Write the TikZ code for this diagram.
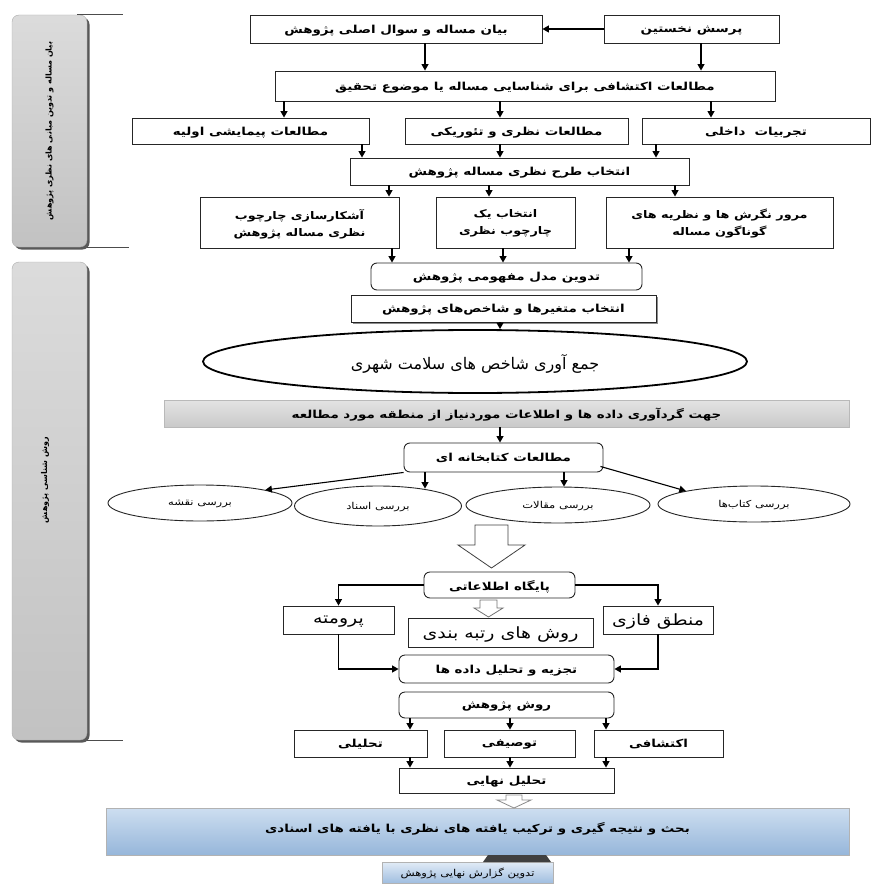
\documentclass[tikz,border=0pt]{standalone}
\usepackage{fontspec}
\usetikzlibrary{shapes.geometric,arrows.meta,shadows,calc}
\TeXXeTstate=1
\newfontfamily\arabicfont[Script=Arabic]{DejaVu Sans}
\newfontfamily\arabicwide[Script=Arabic,FakeStretch=1.22]{DejaVu Sans}
\newcommand{\rtl}[1]{\beginR #1\endR}
\newcommand{\fbx}{\arabicwide\bfseries\fontsize{11}{17}\selectfont}
\newcommand{\fbig}{\arabicwide\fontsize{15.5}{18}\selectfont}
\newcommand{\fsmall}{\arabicwide\fontsize{9.5}{11}\selectfont}
\begin{document}
\begin{tikzpicture}[x=1pt,y=-1pt,
  bx/.style={draw=black!85, line width=0.9pt, fill=white, inner sep=1pt, font=\fbx, align=center, text depth=0pt},
  rbx/.style={bx, rounded corners=6pt},
  ar/.style={draw=black, line width=1.1pt, -{Triangle[length=6.5pt,width=7pt]}},
  oval/.style={ellipse, draw=black!85, line width=0.9pt, fill=white, inner sep=0pt, font=\fsmall, text depth=0pt},
  hollow/.style={draw=black!75, line width=0.8pt, fill=white, line join=miter},
  panel/.style={rounded corners=7pt, draw=gray!65, top color=gray!28, bottom color=gray!48,
     drop shadow={shadow xshift=2.5pt, shadow yshift=-2.5pt, fill=black!65, opacity=1},
     inner sep=0pt, font=\arabicfont\bfseries\fontsize{8}{10}\selectfont},
  panelline/.style={draw=gray!60!black, line width=0.6pt},
  greyband/.style={draw=gray!55, line width=0.5pt, top color=gray!22, bottom color=gray!42, inner sep=0pt, font=\fbx, text depth=0pt},
  blueband/.style={draw=gray!60, line width=0.5pt,
     top color={rgb,255:red,205;green,222;blue,240}, middle color={rgb,255:red,245;green,248;blue,252},
     bottom color={rgb,255:red,150;green,182;blue,218}, inner sep=0pt, font=\fbx, text depth=0pt},
]
\useasboundingbox (0,0) rectangle (872,885);

% side panels
\node[panel, minimum width=75, minimum height=232] (p1) at (49.5,131)
  {\rotatebox{90}{\rtl{بیان مساله و تدوین مبانی های نظری پژوهش}}};
\node[panel, minimum width=75, minimum height=478] (p2) at (49.5,501) {};
\node[font=\arabicfont\bfseries\fontsize{8}{10}\selectfont, inner sep=0pt] (p2t) at (45,480)
  {\rotatebox{90}{\rtl{روش شناسی پژوهش}}};
\draw[panelline] ([xshift=-10pt]p1.north east) -- ++(46,0);
\draw[panelline] (p1.south east) -- ++(42,0);
\draw[panelline] (p2.south east) -- ++(36,0);

% top part
\node[bx, minimum width=175, minimum height=28] (q1) at (691.5,29) {\rtl{پرسش نخستین}};
\node[bx, minimum width=292, minimum height=28] (st) at (396,29) {\rtl{بیان مساله و سوال اصلی پژوهش}};
\node[bx, minimum width=500, minimum height=30] (ex) at (525,86) {\rtl{مطالعات اکتشافی برای شناسایی مساله یا موضوع تحقیق}};
\node[bx, minimum width=237, minimum height=26] (r3a) at (250.5,131) {\rtl{مطالعات پیمایشی اولیه}};
\node[bx, minimum width=223, minimum height=26] (r3b) at (516.5,131) {\rtl{مطالعات نظری و تئوریکی}};
\node[bx, minimum width=228, minimum height=26] (r3c) at (756,131) {\rtl{تجربیات\ \ داخلی}};
\node[bx, minimum width=339, minimum height=27] (sel) at (519.5,171.5) {\rtl{انتخاب طرح نظری مساله پژوهش}};
\node[bx, minimum width=199, minimum height=51, font=\arabicwide\bfseries\fontsize{10.5}{17}\selectfont] (r5a) at (299.5,222.5) {\rtl{آشکارسازی چارچوب}\\\rtl{نظری مساله پژوهش}};
\node[bx, minimum width=139, minimum height=51, font=\arabicwide\bfseries\fontsize{10.5}{17}\selectfont] (r5b) at (505.5,222.5) {\rtl{انتخاب یک}\\\rtl{چارچوب نظری}};
\node[bx, minimum width=227, minimum height=51, font=\arabicwide\bfseries\fontsize{10.5}{17}\selectfont] (r5c) at (719.5,222.5) {\rtl{مرور نگرش ها و نظریه های}\\\rtl{گوناگون مساله}};
\node[rbx, minimum width=271, minimum height=27] (model) at (506.5,276.5) {\rtl{تدوین مدل مفهومی پژوهش}};
\node[bx, minimum width=305, minimum height=27, drop shadow={shadow xshift=2pt, shadow yshift=-2pt, fill=black!45, opacity=1}] (var) at (503.5,308.5) {\rtl{انتخاب متغیرها و شاخص‌های پژوهش}};
\node[ellipse, draw=black, line width=1.8pt, fill=white, inner sep=0pt, minimum width=544, minimum height=63,
  font=\arabicfont\fontsize{16}{20}\selectfont, text depth=0pt] (ell) at (475,361.5) {\rtl{جمع آوری شاخص های سلامت شهری}};
\node[greyband, minimum width=685, minimum height=27] (band) at (506.5,413.5) {\rtl{جهت گردآوری داده ها و اطلاعات موردنیاز از منطقه مورد مطالعه}};
\node[rbx, minimum width=199, minimum height=29] (lib) at (503.5,457.5) {\rtl{مطالعات کتابخانه ای}};
\node[oval, minimum width=184, minimum height=36] (e1) at (200,503) {\rtl{بررسی نقشه}};
\node[oval, minimum width=167, minimum height=40] (e2) at (378,506) {\rtl{بررسی اسناد}};
\node[oval, minimum width=184, minimum height=36] (e3) at (558,505) {\rtl{بررسی مقالات}};
\node[oval, minimum width=192, minimum height=36] (e4) at (754,504) {\rtl{بررسی کتاب‌ها}};
\node[rbx, minimum width=151, minimum height=26] (db) at (499.5,585) {\rtl{پایگاه اطلاعاتی}};
\node[bx, minimum width=111, minimum height=28, font=\fbig] (prom) at (338.5,620) {\rtl{پرومته}};
\node[bx, minimum width=185, minimum height=29, font=\fbig] (rank) at (500.5,632.5) {\rtl{روش های رتبه بندی}};
\node[bx, minimum width=110, minimum height=28, font=\fbig] (fuzzy) at (658,620) {\rtl{منطق فازی}};
\node[rbx, minimum width=215, minimum height=28] (anal) at (506.5,669) {\rtl{تجزیه و تحلیل داده ها}};
\node[rbx, minimum width=215, minimum height=26] (meth) at (506.5,705) {\rtl{روش پژوهش}};
\node[bx, minimum width=133, minimum height=27] (t1) at (360.5,743.5) {\rtl{تحلیلی}};
\node[bx, minimum width=131, minimum height=27] (t2) at (509.5,743.5) {\rtl{توصیفی}};
\node[bx, minimum width=129, minimum height=27] (t3) at (658.5,743.5) {\rtl{اکتشافی}};
\node[bx, minimum width=215, minimum height=25] (final) at (506.5,780.5) {\rtl{تحلیل نهایی}};
\node[blueband, minimum width=743, minimum height=47] (disc) at (477.5,831.5)
  {\raisebox{9pt}{\rtl{بحث و نتیجه گیری و ترکیب یافته های نظری با یافته های اسنادی}}};
\node[blueband, minimum width=171, minimum height=21, font=\arabicwide\fontsize{9.5}{11}\selectfont,
  top color={rgb,255:red,225;green,235;blue,246}, middle color={rgb,255:red,200;green,218;blue,238},
  bottom color={rgb,255:red,160;green,190;blue,224}] (rep) at (467.5,872.5) {\rtl{تدوین گزارش نهایی پژوهش}};

% dark connector between the two blue bands
\fill[black!75] (488,855) -- (546,855) -- (551,862) -- (483,862) -- cycle;

% hollow arrows
\draw[hollow] (475,525) -- (508,525) -- (508,545) -- (525,545) -- (491.5,568) -- (458,545) -- (475,545) -- cycle;
\draw[hollow, draw=black!55] (480,600) -- (497,600) -- (497,608) -- (503,608) -- (488.5,617) -- (474,608) -- (480,608) -- cycle;
\draw[hollow, draw=black!45] (506,795) -- (522,795) -- (522,800) -- (531,800) -- (514,808) -- (497,800) -- (506,800) -- cycle;

% connectors
\draw[ar] (q1.west) -- (st.east);
\draw[ar] (425,0 |- st.south) -- (425,0 |- ex.north);
\draw[ar] (701,0 |- q1.south) -- (701,0 |- ex.north);
\draw[ar] (284,0 |- ex.south) -- (284,0 |- r3a.north);
\draw[ar] (500,0 |- ex.south) -- (500,0 |- r3b.north);
\draw[ar] (711,0 |- ex.south) -- (711,0 |- r3c.north);
\draw[ar] (362,0 |- r3a.south) -- (362,0 |- sel.north);
\draw[ar] (500,0 |- r3b.south) -- (500,0 |- sel.north);
\draw[ar] (656,0 |- r3c.south) -- (656,0 |- sel.north);
\draw[ar] (389,0 |- sel.south) -- (389,0 |- r5a.north);
\draw[ar] (489,0 |- sel.south) -- (489,0 |- r5b.north);
\draw[ar] (675,0 |- sel.south) -- (675,0 |- r5c.north);
\draw[ar] (392,0 |- r5a.south) -- (392,0 |- model.north);
\draw[ar] (503,0 |- r5b.south) -- (503,0 |- model.north);
\draw[ar] (629,0 |- r5c.south) -- (629,0 |- model.north);
\draw[ar] (500,0 |- var.south) -- (500,0 |- ell.north);
\draw[ar] (500,0 |- band.south) -- (500,0 |- lib.north);
\draw[ar] (lib.south west) -- (e1.north east);
\draw[ar] (425,0 |- lib.south) -- ($(e2.north)+(47,3)$);
\draw[ar] (564,0 |- lib.south) -- (564,0 |- e3.north);
\draw[ar] ($(lib.south east)+(-3,-6)$) -- (e4.north west);
\draw[ar] (db.west) -| (prom.north);
\draw[ar] (db.east) -| (fuzzy.north);
\draw[ar] (prom.south) |- (anal.west);
\draw[ar] (fuzzy.south) |- (anal.east);
\draw[ar] (410,0 |- meth.south) -- (410,0 |- t1.north);
\draw[ar] (510,0 |- meth.south) -- (510,0 |- t2.north);
\draw[ar] (606,0 |- meth.south) -- (606,0 |- t3.north);
\draw[ar] (410,0 |- t1.south) -- (410,0 |- final.north);
\draw[ar] (510,0 |- t2.south) -- (510,0 |- final.north);
\draw[ar] (606,0 |- t3.south) -- (606,0 |- final.north);
\end{tikzpicture}
\end{document}
